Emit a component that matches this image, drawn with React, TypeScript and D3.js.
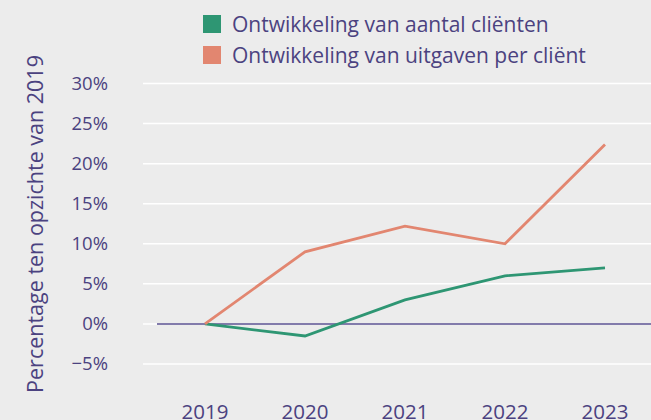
import React from "react";
import * as d3 from "d3";

const years = ["2019", "2020", "2021", "2022", "2023"];
const clientGrowth = [0, -1.5, 3, 6, 7];
const spendPerClient = [0, 9, 12.2, 10, 22.4];
const yTicks = [-5, 0, 5, 10, 15, 20, 25, 30];
const seriesNames = ["Ontwikkeling van aantal cliënten", "Ontwikkeling van uitgaven per cliënt"];
const yAxisTitle = "Percentage ten opzichte van 2019";

const W = 651;
const H = 420;
const GREEN = "#2e9673";
const ORANGE = "#e28670";
const TEXT = "#4b4280";
const ZERO = "#5a5090";
const BG = "#ececec";
const FONT = "'Open Sans', sans-serif";

export default function App() {
  const x = d3.scalePoint<string>().domain(years).range([205, 605]);
  const y = d3.scaleLinear().domain([-5, 30]).range([364, 83.5]);
  const line = d3
    .line<number>()
    .x((_, i) => x(years[i]) as number)
    .y((d) => y(d));

  const series = [
    { name: seriesNames[0], values: clientGrowth, color: GREEN },
    { name: seriesNames[1], values: spendPerClient, color: ORANGE },
  ];

  return (
    <svg
      width={W}
      height={H}
      style={{ position: "absolute", left: 0, top: 0, background: BG }}
      fontFamily={FONT}
      fontWeight={400}
    >
      <rect x={0} y={0} width={W} height={H} fill={BG} />
      {yTicks.map((t) => (
        <g key={t}>
          <line x1={143} x2={W} y1={y(t)} y2={y(t)} stroke="#ffffff" strokeWidth={1.5} />
          <text
            x={108}
            y={y(t)}
            dy="0.35em"
            textAnchor="end"
            fontSize={18.5}
            fill={TEXT}
          >
            {t < 0 ? "\u2212" + Math.abs(t) : t}%
          </text>
        </g>
      ))}
      <line x1={157} x2={W} y1={y(0)} y2={y(0)} stroke={ZERO} strokeWidth={1.5} />
      {series.map((s) => (
        <path key={s.name} d={line(s.values) || ""} fill="none" stroke={s.color} strokeWidth={2.8} />
      ))}
      {years.map((yr) => (
        <text key={yr} x={x(yr)} y={419} textAnchor="middle" fontSize={20.5} fill={TEXT}>
          {yr}
        </text>
      ))}
      <text
        transform={`translate(43, 224) rotate(-90)`}
        textAnchor="middle"
        fontSize={21.5}
        fill={TEXT}
      >
        {yAxisTitle}
      </text>
      {series.map((s, i) => (
        <g key={s.name} transform={`translate(203, ${15 + i * 31})`}>
          <rect x={0} y={0} width={18} height={18} fill={s.color} />
          <text x={29} y={9} dy="0.36em" fontSize={21} fill={TEXT}>
            {s.name}
          </text>
        </g>
      ))}
    </svg>
  );
}
